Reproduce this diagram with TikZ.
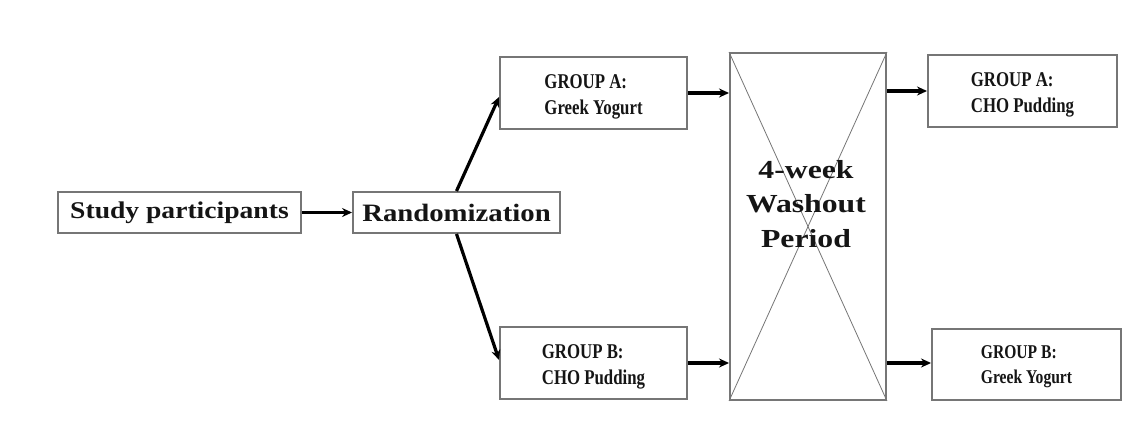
\documentclass[tikz,border=0pt]{standalone}
\usepackage{fontspec}
\setmainfont{Liberation Serif}
\newfontfamily\wideserif[FakeStretch=1.15]{Liberation Serif}
\newfontfamily\washserif[FakeStretch=1.22]{Liberation Serif}
\newfontfamily\narrowserif[FakeStretch=0.8]{Liberation Serif}
\usetikzlibrary{arrows.meta,calc}
\definecolor{boxgray}{HTML}{767676}
\definecolor{txt}{HTML}{151515}
\newcommand{\dropline}{\rule{0pt}{22pt}}
\begin{document}
\begin{tikzpicture}[x=1pt,y=-1pt,
  box/.style={draw=boxgray,line width=1.9pt,fill=white,inner sep=0pt,text=txt},
  bigtext/.style={font=\wideserif\bfseries\fontsize{24}{30}\selectfont},
  grptext/.style={font=\narrowserif\bfseries\fontsize{21}{26}\selectfont,align=left},
  flow/.style={line width=3.2pt,draw=black,-{Stealth[length=10pt,width=9pt]}},
  crossline/.style={draw=boxgray,line width=0.8pt}]
\useasboundingbox[fill=white] (0,0) rectangle (1130,431);

\node[box,bigtext,minimum width=243pt,minimum height=41pt] (study) at (179.5,212.5) {Study participants};
\node[box,font=\wideserif\bfseries\fontsize{25}{30}\selectfont,minimum width=207pt,minimum height=41pt] (rand) at (456.5,212.5) {Randomization};

\node[box,grptext,minimum width=187pt,minimum height=72pt] (ga1) at (593.5,93) {\dropline GROUP A:\\Greek Yogurt};
\node[box,grptext,minimum width=187pt,minimum height=72pt] (gb1) at (593.5,363) {\dropline GROUP B:\\CHO Pudding};

\node[box,minimum width=156pt,minimum height=347pt] (wash) at (808,226.5) {};
\draw[crossline] (wash.north west) -- (wash.south east);
\draw[crossline] (wash.north east) -- (wash.south west);
\node[text=txt,align=center,font=\washserif\bfseries\fontsize{26}{34.5}\selectfont,inner sep=0pt] (washlbl) at (806,204) {4-week\\Washout\\Period};

\node[box,grptext,minimum width=189pt,minimum height=72pt] (ga2) at (1022.5,91) {\dropline GROUP A:\\CHO Pudding};
\node[box,grptext,font=\narrowserif\bfseries\fontsize{19.5}{25}\selectfont,minimum width=189pt,minimum height=71pt] (gb2) at (1026.5,364.5) {\rule{0pt}{18pt}GROUP B:\\Greek Yogurt};

\draw[flow] (study.east) -- (rand.west);
\draw[flow] (rand.north) -- ($(ga1.west)+(0,4)$);
\draw[flow] (rand.south) -- ($(gb1.west)+(0,-3)$);
\draw[flow] (ga1.east) -- (ga1.east -| wash.west);
\draw[flow] (gb1.east) -- (gb1.east -| wash.west);
\draw[flow] (wash.east |- ga2.west) -- (ga2.west);
\draw[flow] ($(wash.east |- gb2.west)+(0,-1.5)$) -- ($(gb2.west)+(0,-1.5)$);
\end{tikzpicture}
\end{document}
